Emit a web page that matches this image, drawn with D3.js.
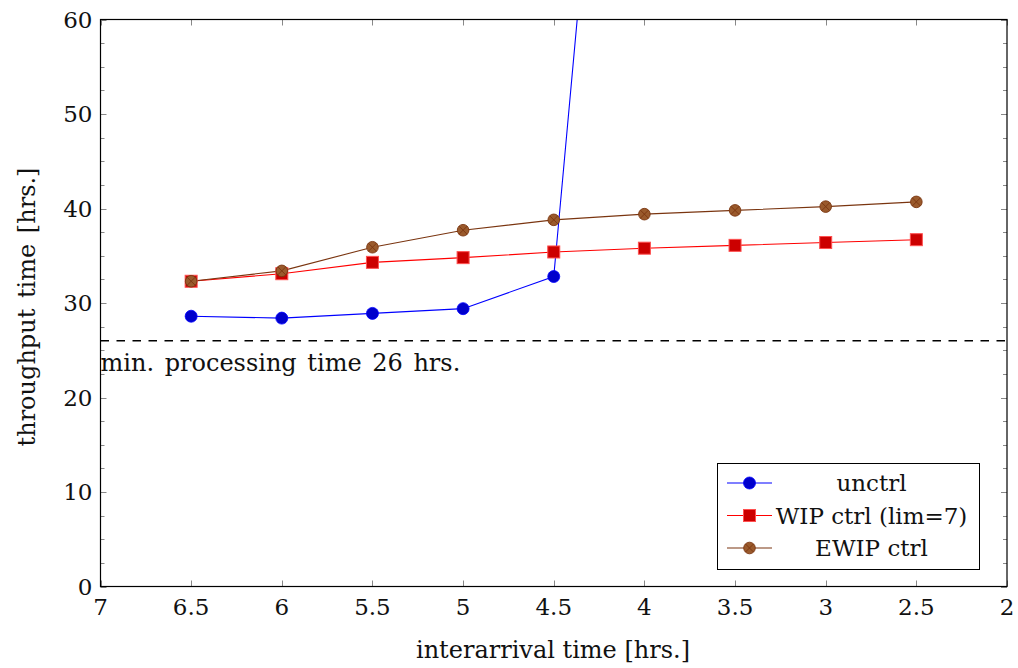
<!DOCTYPE html>
<html>
<head>
<meta charset="utf-8">
<script src="https://cdn.jsdelivr.net/npm/d3@7"></script>
<style>
  html, body { margin: 0; padding: 0; background: #fff; }
  svg { display: block; }
  text { font-family: "DejaVu Serif", "Liberation Serif", serif; fill: #111; }
</style>
</head>
<body>
<svg id="chart" width="1018" height="668"></svg>
<script>
// Interarrival times (hrs.), shown on a reversed axis
const interarrival = [6.5, 6, 5.5, 5, 4.5, 4, 3.5, 3, 2.5];

// Throughput time (hrs.) per control strategy
const unctrl   = [28.6, 28.4, 28.9, 29.4, 32.8, 138];
const wipCtrl  = [32.3, 33.1, 34.3, 34.8, 35.4, 35.8, 36.1, 36.4, 36.7];
const ewipCtrl = [32.3, 33.4, 35.9, 37.7, 38.8, 39.4, 39.8, 40.2, 40.7];

const seriesNames = ["unctrl", "WIP ctrl (lim=7)", "EWIP ctrl"];
const minProcessing = 26;

const xTicks = [7, 6.5, 6, 5.5, 5, 4.5, 4, 3.5, 3, 2.5, 2];
const yTicks = [0, 10, 20, 30, 40, 50, 60];
const yMinorTicks = d3.range(0, 60.01, 2.5).filter(v => v % 10 !== 0);

const W = 1018, H = 668;
const L = 100.5, R = 1007, T = 19.5, B = 586.5;

const svg = d3.select("#chart");
const x = d3.scaleLinear().domain([7, 2]).range([L, R]);
const y = d3.scaleLinear().domain([0, 60]).range([B, T]);

const styles = [
  { line: "#0000ff", fill: "#0000cc", stroke: "#0000ff", mark: "circle" },
  { line: "#ff0000", fill: "#cc0000", stroke: "#ff5050", mark: "square" },
  { line: "#7a3510", fill: "#9a5a2c", stroke: "#7a3510", mark: "otimes" }
];
const data = [unctrl, wipCtrl, ewipCtrl].map(vals =>
  vals.map((v, i) => ({ x: interarrival[i], y: v })));

svg.append("defs").append("clipPath").attr("id", "plotclip")
  .append("rect").attr("x", L).attr("y", T).attr("width", R - L).attr("height", B - T);

// ticks (inside, mirrored on all four sides)
const tickG = svg.append("g").attr("stroke", "#888").attr("stroke-width", 1);
xTicks.forEach(v => {
  const px = Math.round(x(v)) + 0.5;
  tickG.append("line").attr("x1", px).attr("x2", px).attr("y1", B).attr("y2", B - 6);
  tickG.append("line").attr("x1", px).attr("x2", px).attr("y1", T).attr("y2", T + 6);
});
yTicks.forEach(v => {
  const py = Math.round(y(v)) + 0.5;
  tickG.append("line").attr("x1", L).attr("x2", L + 6).attr("y1", py).attr("y2", py);
  tickG.append("line").attr("x1", R).attr("x2", R - 6).attr("y1", py).attr("y2", py);
});
yMinorTicks.forEach(v => {
  const py = Math.round(y(v)) + 0.5;
  tickG.append("line").attr("x1", L).attr("x2", L + 4).attr("y1", py).attr("y2", py);
  tickG.append("line").attr("x1", R).attr("x2", R - 4).attr("y1", py).attr("y2", py);
});

// tick labels
const fs = 23, fsTitle = 24;
svg.append("g").selectAll("text").data(xTicks).join("text")
  .attr("x", d => x(d)).attr("y", B + 28)
  .attr("text-anchor", "middle").attr("font-size", fs)
  .text(d => d);
svg.append("g").selectAll("text").data(yTicks).join("text")
  .attr("x", L - 8).attr("y", d => y(d) + 8)
  .attr("text-anchor", "end").attr("font-size", fs)
  .text(d => d);

// reference line: minimum processing time
svg.append("line")
  .attr("x1", L).attr("x2", R)
  .attr("y1", y(minProcessing)).attr("y2", y(minProcessing))
  .attr("stroke", "#000").attr("stroke-width", 1.4)
  .attr("stroke-dasharray", "8.5,7.5");
svg.append("text")
  .attr("x", L).attr("y", y(minProcessing) + 30)
  .attr("font-size", fsTitle).attr("word-spacing", 3)
  .text("min. processing time 26 hrs.");

// series
const lineGen = d3.line().x(d => x(d.x)).y(d => y(d.y));
const plot = svg.append("g").attr("clip-path", "url(#plotclip)");

function drawMark(g, cx, cy, st) {
  if (st.mark === "circle") {
    g.append("circle").attr("cx", cx).attr("cy", cy).attr("r", 6)
      .attr("fill", st.fill).attr("stroke", st.stroke).attr("stroke-width", 0.8);
  } else if (st.mark === "square") {
    g.append("rect").attr("x", cx - 6).attr("y", cy - 6).attr("width", 12).attr("height", 12)
      .attr("fill", st.fill).attr("stroke", st.stroke).attr("stroke-width", 1);
  } else {
    g.append("circle").attr("cx", cx).attr("cy", cy).attr("r", 5.8)
      .attr("fill", st.fill).attr("stroke", st.stroke).attr("stroke-width", 0.9);
    const k = 5.8 * Math.SQRT1_2;
    g.append("path")
      .attr("d", `M${cx - k},${cy - k}L${cx + k},${cy + k}M${cx - k},${cy + k}L${cx + k},${cy - k}`)
      .attr("stroke", st.stroke).attr("stroke-width", 0.9);
  }
}

data.forEach((pts, si) => {
  const st = styles[si];
  plot.append("path").datum(pts)
    .attr("d", lineGen).attr("fill", "none")
    .attr("stroke", st.line).attr("stroke-width", 1.1);
});
data.forEach((pts, si) => {
  const st = styles[si];
  const g = plot.append("g");
  pts.forEach(p => drawMark(g, x(p.x), y(p.y), st));
});

// axis frame
svg.append("rect").attr("x", L).attr("y", T).attr("width", R - L).attr("height", B - T)
  .attr("fill", "none").attr("stroke", "#000").attr("stroke-width", 1.2);

// axis titles
svg.append("text").attr("x", 553).attr("y", 658)
  .attr("text-anchor", "middle").attr("font-size", fsTitle)
  .text("interarrival time [hrs.]");
svg.append("text")
  .attr("transform", `translate(35,307) rotate(-90)`)
  .attr("text-anchor", "middle").attr("font-size", fsTitle).attr("word-spacing", 3)
  .text("throughput time [hrs.]");

// legend
const lg = svg.append("g");
lg.append("rect").attr("x", 717.5).attr("y", 463.5).attr("width", 262).attr("height", 106)
  .attr("fill", "#fff").attr("stroke", "#000").attr("stroke-width", 1);
seriesNames.forEach((name, i) => {
  const st = styles[i];
  const cy = 483 + i * 32.5;
  lg.append("line").attr("x1", 727).attr("x2", 772).attr("y1", cy).attr("y2", cy)
    .attr("stroke", st.line).attr("stroke-width", 1.1);
  drawMark(lg, 749.5, cy, st);
  lg.append("text").attr("x", 871.5).attr("y", cy + 8)
    .attr("text-anchor", "middle").attr("font-size", fs)
    .text(name);
});
</script>
</body>
</html>
